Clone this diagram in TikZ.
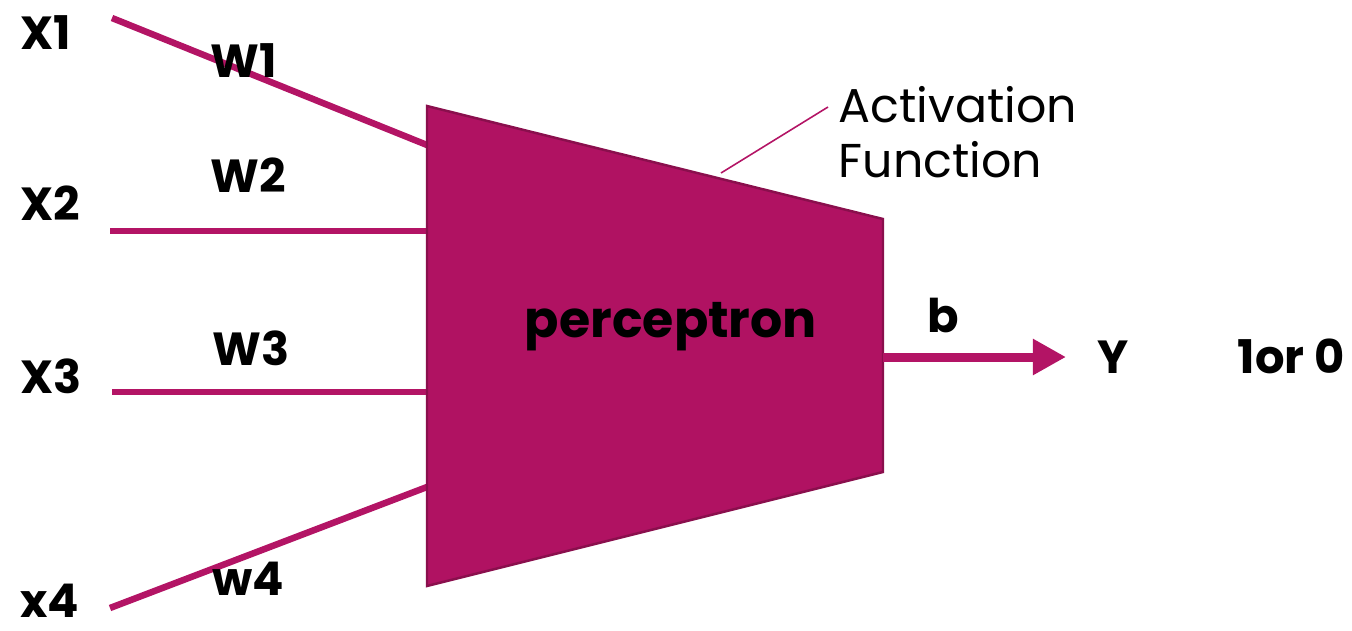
\documentclass[tikz,border=0pt]{standalone}
\usepackage{fontspec}
\setmainfont{Poppins}
\usetikzlibrary{arrows.meta}
\definecolor{magfill}{HTML}{B01262}
\definecolor{magedge}{HTML}{8A0F4D}
\definecolor{magline}{HTML}{B31465}
\tikzset{
  lbl/.style={inner sep=0pt, anchor=base west, font=\fontsize{13.2}{14}\selectfont\bfseries, text=black},
  inwire/.style={draw=magline, line width=0.065cm},
  outwire/.style={draw=magline, line width=0.09cm, -{Triangle[length=0.33cm,width=0.34cm]}},
  pointer/.style={draw=magline, line width=0.45pt},
  body/.style={fill=magfill, draw=magedge, line width=0.7pt, line join=miter}
}
\begin{document}
\begin{tikzpicture}[x=0.01cm,y=-0.01cm]
\useasboundingbox (0,0) rectangle (1352,630);
% trapezoid corners
\coordinate (tl) at (427,106);
\coordinate (bl) at (427,586);
\coordinate (tr) at (883,219);
\coordinate (br) at (883,472);
% input wire ends
\coordinate (i1) at (112,18);
\coordinate (e1) at (427,145);
\coordinate (i2) at (110,231);
\coordinate (e2) at (427,231);
\coordinate (i3) at (112,392);
\coordinate (e3) at (427,392);
\coordinate (i4) at (110,608);
\coordinate (e4) at (427,487);
\coordinate (o1) at (883,357);
\coordinate (o2) at (1066,357);
\coordinate (p1) at (721,173);
\coordinate (p2) at (828,107);

\draw[inwire] (i1) -- (e1);
\draw[inwire] (i2) -- (e2);
\draw[inwire] (i3) -- (e3);
\draw[inwire] (i4) -- (e4);
\draw[body] (tl) -- (tr) -- (br) -- (bl) -- cycle;
\draw[outwire] (o1) -- (o2);
\draw[pointer] (p1) -- (p2);

\node[lbl] (x1) at (20,49) {X1};
\node[lbl] (w1) at (210,77) {W1};
\node[lbl] (w2) at (210,192) {W2};
\node[lbl] (x2) at (20,220) {X2};
\node[lbl] (w3) at (212,365) {W3};
\node[lbl] (x3) at (20,393) {X3};
\node[lbl] (w4) at (212,595) {w4};
\node[lbl] (x4) at (20,617) {x4};
\node[lbl] (b) at (927,332) {b};
\node[lbl] (y) at (1097,373) {Y};
\node[lbl] (res) at (1237,373) {1or 0};
\node[inner sep=0pt, anchor=base, font=\fontsize{14.4}{15}\selectfont\bfseries] (perc) at (671,337) {perceptron};
\node[inner sep=0pt, anchor=base west, font=\fontsize{13.5}{14}\selectfont] (act) at (838,122) {Activation};
\node[inner sep=0pt, anchor=base west, font=\fontsize{13.5}{14}\selectfont] (fun) at (838,177) {Function};
\end{tikzpicture}
\end{document}
